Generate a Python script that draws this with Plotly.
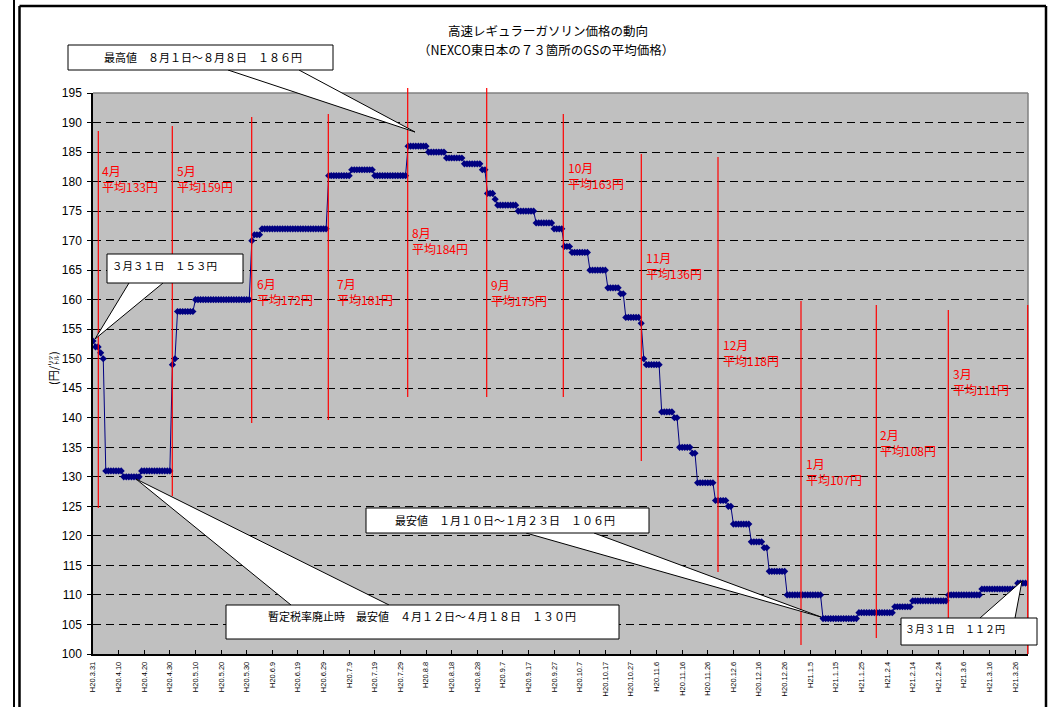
import plotly.graph_objects as go

# ---------------- DATA ----------------
# Daily average price (yen / litre), H20.3.31 .. H21.3.31
prices_h20_03 = [153]
prices_h20_04 = [152, 152, 151, 150,
                 131, 131, 131, 131, 131, 131, 131,
                 130, 130, 130, 130, 130, 130, 130,
                 131, 131, 131, 131, 131, 131, 131, 131, 131, 131, 131, 131]
prices_h20_05 = [149, 150,
                 158, 158, 158, 158, 158, 158, 158,
                 160, 160, 160, 160, 160, 160, 160, 160, 160, 160, 160,
                 160, 160, 160, 160, 160, 160, 160, 160, 160, 160, 160]
prices_h20_06 = [170, 171, 171, 171,
                 172, 172, 172, 172, 172, 172, 172, 172, 172, 172, 172, 172, 172,
                 172, 172, 172, 172, 172, 172, 172, 172, 172, 172, 172, 172, 172]
prices_h20_07 = [181, 181, 181, 181, 181, 181, 181, 181, 181,
                 182, 182, 182, 182, 182, 182, 182, 182, 182,
                 181, 181, 181, 181, 181, 181, 181, 181, 181, 181, 181, 181, 181]
prices_h20_08 = [186, 186, 186, 186, 186, 186, 186, 186,
                 185, 185, 185, 185, 185, 185, 185,
                 184, 184, 184, 184, 184, 184, 184,
                 183, 183, 183, 183, 183, 183, 183,
                 182, 182]
prices_h20_09 = [178, 178, 178, 177,
                 176, 176, 176, 176, 176, 176, 176, 176,
                 175, 175, 175, 175, 175, 175, 175,
                 173, 173, 173, 173, 173, 173, 173,
                 172, 172, 172, 172]
prices_h20_10 = [169, 169, 169,
                 168, 168, 168, 168, 168, 168, 168,
                 165, 165, 165, 165, 165, 165, 165,
                 162, 162, 162, 162, 162,
                 161, 161,
                 157, 157, 157, 157, 157, 157,
                 156]
prices_h20_11 = [150,
                 149, 149, 149, 149, 149, 149,
                 141, 141, 141, 141, 141,
                 140, 140,
                 135, 135, 135, 135, 135,
                 134, 134,
                 129, 129, 129, 129, 129, 129, 129,
                 126, 126]
prices_h20_12 = [126, 126, 126,
                 125, 125,
                 122, 122, 122, 122, 122, 122, 122,
                 119, 119, 119, 119, 119,
                 118, 118,
                 114, 114, 114, 114, 114, 114, 114,
                 110, 110, 110, 110, 110]
prices_h21_01 = [110, 110, 110, 110, 110, 110, 110, 110, 110,
                 106, 106, 106, 106, 106, 106, 106, 106, 106, 106, 106, 106, 106, 106,
                 107, 107, 107, 107, 107, 107, 107, 107]
prices_h21_02 = [107, 107, 107, 107, 107, 107,
                 108, 108, 108, 108, 108, 108, 108,
                 109, 109, 109, 109, 109, 109, 109, 109, 109, 109, 109, 109, 109, 109,
                 110]
prices_h21_03 = [110, 110, 110, 110, 110, 110, 110, 110, 110, 110, 110, 110,
                 111, 111, 111, 111, 111, 111, 111, 111, 111, 111, 111, 111, 111, 111,
                 112, 112, 112, 112, 112]

tick_labels = ["H20.3.31", "H20.4.10", "H20.4.20", "H20.4.30", "H20.5.10", "H20.5.20",
               "H20.5.30", "H20.6.9", "H20.6.19", "H20.6.29", "H20.7.9", "H20.7.19",
               "H20.7.29", "H20.8.8", "H20.8.18", "H20.8.28", "H20.9.7", "H20.9.17",
               "H20.9.27", "H20.10.7", "H20.10.17", "H20.10.27", "H20.11.6", "H20.11.16",
               "H20.11.26", "H20.12.6", "H20.12.16", "H20.12.26", "H21.1.5", "H21.1.15",
               "H21.1.25", "H21.2.4", "H21.2.14", "H21.2.24", "H21.3.6", "H21.3.16",
               "H21.3.26"]
tick_step_days = 10

month_names = ["4月", "5月", "6月", "7月", "8月", "9月", "10月", "11月", "12月", "1月", "2月", "3月"]
month_avgs = [133, 159, 172, 181, 184, 175, 163, 136, 118, 107, 108, 111]

title_text = "高速レギュラーガソリン価格の動向"
subtitle_text = "（NEXCO東日本の７３箇所のGSの平均価格）"
y_title = "(円/㍑)"
callout_texts = [
    "最高値　８月１日～８月８日　１８６円",
    "３月３１日　１５３円",
    "暫定税率廃止時　最安値　４月１２日～４月１８日　１３０円",
    "最安値　１月１０日～１月２３日　１０６円",
    "３月３１日　１１２円",
]

prices = (prices_h20_03 + prices_h20_04 + prices_h20_05 + prices_h20_06 + prices_h20_07 +
          prices_h20_08 + prices_h20_09 + prices_h20_10 + prices_h20_11 + prices_h20_12 +
          prices_h21_01 + prices_h21_02 + prices_h21_03)
days = list(range(len(prices)))
tick_vals = [i * tick_step_days for i in range(len(tick_labels))]

# ---------------- LAYOUT (pixel positions) ----------------
W, H = 1054, 707
PL, PR, PT, PB = 93, 1028, 93, 654
def fx(x): return (x - PL) / (PR - PL)
def fy(y): return (PB - y) / (PB - PT)

JP = "Noto Sans CJK JP"
LAT = "Liberation Sans, Arial"

red_lines = [(98.3, 131, 508), (172.3, 126, 496), (251.7, 117, 423), (328.3, 114, 420),
             (407.7, 88, 397), (486.7, 88, 397), (563.3, 114, 397), (641.3, 154, 461),
             (718, 157, 572), (801, 301, 645), (876.3, 305, 638), (948.3, 310, 618),
             (1027.7, 305, 654)]
month_label_pos = [(100, 160), (175, 160), (255, 273), (335, 273), (410, 222), (489, 274),
                   (566, 157), (644, 247), (721, 334), (804, 453), (878, 424), (951, 363)]

# callout: box (x0,y0,x1,y1), wedge (b1, b2, tip), text pos, anchor, size
callouts = [
    ((68, 45, 333, 70), ((228, 70), (299, 70), (415, 132)), (203, 57), "center", 11),
    ((107, 254, 243, 283), ((129, 283), (163, 283), (95, 339)), (110, 265), "left", 10.5),
    ((226, 605, 619, 639), ((291, 605), (389, 605), (136, 479)), (422, 616), "center", 11),
    ((366, 508, 649, 533), ((526, 533), (594, 533), (821, 617)), (505, 520), "center", 11),
    ((901, 618, 1037, 645), ((980, 618), (1015, 618), (1022, 581)), (903, 628), "left", 10),
]

fig = go.Figure()
fig.add_trace(go.Scatter(
    x=days, y=prices, mode="lines+markers",
    line=dict(color="#000080", width=1),
    marker=dict(symbol="diamond", size=5.5, color="#000080", line=dict(width=0)),
    hoverinfo="skip", showlegend=False))

shapes = []
# plot border top / right (gray)
shapes.append(dict(type="line", xref="paper", yref="paper", x0=0, x1=1, y0=1, y1=1,
                   line=dict(color="#808080", width=1.5), layer="above"))
shapes.append(dict(type="line", xref="paper", yref="paper", x0=1, x1=1, y0=0, y1=1,
                   line=dict(color="#808080", width=1.5), layer="above"))
# red month separators
for x, t, b in red_lines:
    shapes.append(dict(type="line", xref="paper", yref="paper", x0=fx(x), x1=fx(x),
                       y0=fy(t), y1=fy(b), line=dict(color="#FF0000", width=1.2), layer="above"))
# callouts
for (x0, y0, x1, y1), (b1, b2, tip), _, _, _ in callouts:
    path = "M {} {} L {} {} L {} {}".format(fx(b1[0]), fy(b1[1]), fx(tip[0]), fy(tip[1]),
                                            fx(b2[0]), fy(b2[1]))
    shapes.append(dict(type="path", xref="paper", yref="paper", path=path,
                       fillcolor="white", line=dict(color="black", width=1), layer="above"))
    shapes.append(dict(type="rect", xref="paper", yref="paper", x0=fx(x0), x1=fx(x1),
                       y0=fy(y0), y1=fy(y1), fillcolor="white",
                       line=dict(color="black", width=1), layer="above"))
# outer frame
frame = [((14, 0), (14, 707), 2), ((19.5, 6), (1046, 6), 2.5),
         ((19.5, 6), (19.5, 707), 2.5), ((1046, 6), (1046, 707), 2.5)]
for (ax, ay), (bx, by), w in frame:
    shapes.append(dict(type="line", xref="paper", yref="paper", x0=fx(ax), y0=fy(ay),
                       x1=fx(bx), y1=fy(by), line=dict(color="black", width=w), layer="above"))

annotations = []
for name, avg, (x, y) in zip(month_names, month_avgs, month_label_pos):
    annotations.append(dict(xref="paper", yref="paper", x=fx(x), y=fy(y), xanchor="left",
                            yanchor="top", align="left", showarrow=False,
                            text="{}<br>平均{}円".format(name, avg),
                            font=dict(family=JP, size=12, color="#FF0000")))
for (box, wedge, (tx, ty), anc, sz), txt in zip(callouts, callout_texts):
    annotations.append(dict(xref="paper", yref="paper", x=fx(tx), y=fy(ty), xanchor=anc,
                            yanchor="middle", showarrow=False, text=txt,
                            font=dict(family=JP, size=sz, color="black")))
annotations.append(dict(xref="paper", yref="paper", x=fx(548), y=fy(31), xanchor="center",
                        yanchor="middle", showarrow=False, text=title_text,
                        font=dict(family=JP, size=12.5, color="black")))
annotations.append(dict(xref="paper", yref="paper", x=fx(546), y=fy(50), xanchor="center",
                        yanchor="middle", showarrow=False, text=subtitle_text,
                        font=dict(family=JP, size=12.5, color="black")))
annotations.append(dict(xref="paper", yref="paper", x=fx(53), y=fy(368), xanchor="center",
                        yanchor="middle", showarrow=False, text=y_title, textangle=-90,
                        font=dict(family=JP, size=11, color="black")))

fig.update_layout(
    width=W, height=H, autosize=False,
    margin=dict(l=PL, r=W - PR, t=PT, b=H - PB, pad=0),
    paper_bgcolor="white", plot_bgcolor="#C0C0C0",
    shapes=shapes, annotations=annotations, showlegend=False,
    xaxis=dict(range=[0, 365], tickmode="array", tickvals=tick_vals, ticktext=tick_labels,
               tickangle=-90, tickfont=dict(family=LAT, size=7.5, color="black"),
               ticks="inside", ticklen=4, tickcolor="black", showgrid=False, zeroline=False,
               showline=True, linecolor="black", linewidth=1.5, ticklabelstandoff=3),
    yaxis=dict(range=[100, 195], tick0=100, dtick=5,
               tickfont=dict(family=LAT, size=12, color="black"),
               ticks="outside", ticklen=4, tickcolor="black", showgrid=True,
               gridcolor="black", gridwidth=1, griddash="8px,5px", zeroline=False,
               showline=True, linecolor="black", linewidth=1.5, ticklabelstandoff=3),
)

fig.write_html("out.html", config={"displayModeBar": False},
               post_script="document.body.style.margin='0';")
